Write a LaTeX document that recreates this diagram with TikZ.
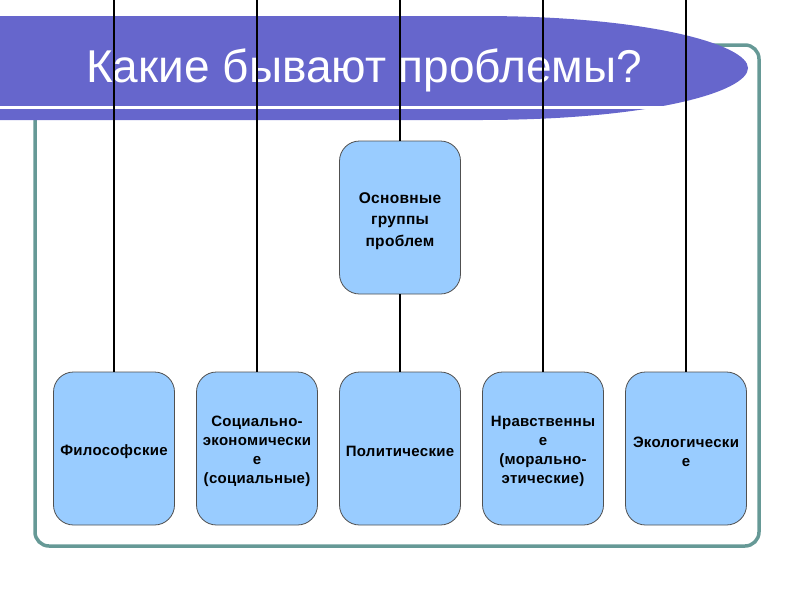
\documentclass[tikz,border=0pt]{standalone}
\usepackage{fontspec}
\setmainfont{Liberation Sans}
\newfontfamily\boxfont[LetterSpace=2]{Liberation Sans}
\newcommand\lowstrut{\rule{0pt}{17pt}}
\newcommand\midstrut{\rule{0pt}{18pt}}
\definecolor{banner}{RGB}{102,102,204}
\definecolor{framecol}{RGB}{102,153,150}
\definecolor{boxfill}{RGB}{153,204,255}
\definecolor{boxborder}{RGB}{80,80,80}
\tikzset{
  blk/.style={draw=boxborder, fill=boxfill, rounded corners=20pt, minimum width=121pt,
    minimum height=153pt, align=center, inner sep=2pt, line width=0.8pt,
    font=\boxfont\bfseries\fontsize{15}{19}\selectfont},
  conn/.style={draw=black, line width=1.3pt},
  framestyle/.style={draw=framecol, line width=3.5pt, rounded corners=14pt}
}
\begin{document}
\begin{tikzpicture}[x=1pt,y=-1pt]
\useasboundingbox (0,0) rectangle (800,600);
\clip (0,0) rectangle (800,600);
% frame
\draw[framestyle] (35,45) rectangle (759,546);
% banner
\fill[banner] (-5,16) -- (480,16) .. controls (650,16) and (748,45) .. (748,68)
  .. controls (748,92) and (650,120) .. (480,120) -- (-5,120) -- cycle;
\draw[white, line width=3pt] (-5,107) -- (665,107);
\node[text=white, anchor=base, font=\fontsize{46}{50}\selectfont] (title) at (364,82) {Какие бывают проблемы?};
% nodes
\node[blk, font=\boxfont\bfseries\fontsize{15.5}{21.5}\selectfont] (main) at (400,217.5) {\midstrut Основные\\группы\\проблем};
\node[blk] (b1) at (114,448.5) {\lowstrut Философские};
\node[blk] (b2) at (257,448.5) {\lowstrut Социально-\\экономически\\е\\(социальные)};
\node[blk] (b3) at (400,448.5) {\lowstrut Политические};
\node[blk] (b4) at (543,448.5) {\lowstrut Нравственны\\е\\(морально-\\этические)};
\node[blk] (b5) at (686,448.5) {\lowstrut Экологически\\е};
% top ends
\coordinate (t1) at (114,0);
\coordinate (t2) at (257,0);
\coordinate (t3) at (400,0);
\coordinate (t4) at (543,0);
\coordinate (t5) at (686,0);
\draw[conn] (t1) -- (b1.north);
\draw[conn] (t2) -- (b2.north);
\draw[conn] (t3) -- (main.north);
\draw[conn] (main.south) -- (b3.north);
\draw[conn] (t4) -- (b4.north);
\draw[conn] (t5) -- (b5.north);
\end{tikzpicture}
\end{document}
